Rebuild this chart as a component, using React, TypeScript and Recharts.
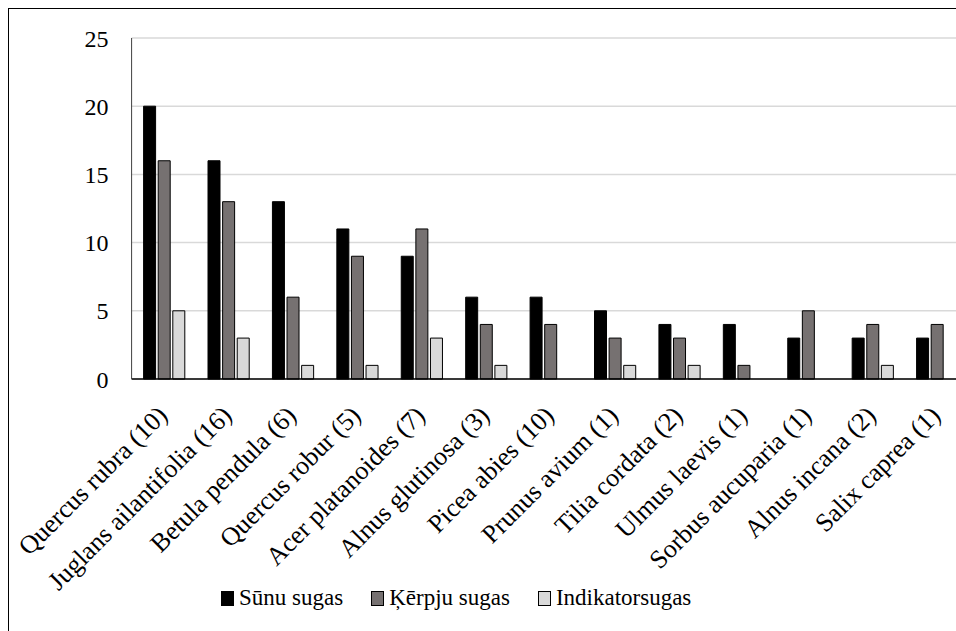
import { BarChart, Bar, XAxis, YAxis, CartesianGrid, Legend } from 'recharts'

const species = [
  'Quercus rubra (10)',
  'Juglans ailantifolia (16)',
  'Betula pendula (6)',
  'Quercus robur (5)',
  'Acer platanoides (7)',
  'Alnus glutinosa (3)',
  'Picea abies (10)',
  'Prunus avium (1)',
  'Tilia cordata (2)',
  'Ulmus laevis (1)',
  'Sorbus aucuparia (1)',
  'Alnus incana (2)',
  'Salix caprea (1)',
]
const sunu = [20, 16, 13, 11, 9, 6, 6, 5, 4, 4, 3, 3, 3]
const kerpju = [16, 13, 6, 9, 11, 4, 4, 3, 3, 1, 5, 4, 4]
const indikator = [5, 3, 1, 1, 3, 1, 0, 1, 1, 0, 0, 1, 0]
const yTicks = [0, 5, 10, 15, 20, 25]

const series = [
  { key: 'sunu', name: 'Sūnu sugas', fill: '#000000' },
  { key: 'kerpju', name: 'Ķērpju sugas', fill: '#767171' },
  { key: 'indikator', name: 'Indikatorsugas', fill: '#d9d9d9' },
]

const data = species.map((name, i) => ({
  name,
  sunu: sunu[i],
  kerpju: kerpju[i],
  indikator: indikator[i],
}))

// serif like Times New Roman
const font = 'Liberation Serif, Tinos, DejaVu Serif, serif'

const XTick = ({ x, y, payload }: any) => {
  const ax = x + 5
  const ay = y + 36
  return (
    <text
      x={ax}
      y={ay}
      transform={`rotate(-45, ${ax}, ${ay})`}
      textAnchor="end"
      style={{ fontFamily: font }}
      fontSize={26}
      fill="#000"
    >
      {payload.value}
    </text>
  )
}

const LegendBox = () => (
  <div style={{ display: 'flex', alignItems: 'center', height: 30, fontFamily: font, fontSize: 23 }}>
    {series.map((s, i) => (
      <div key={s.key} style={{ display: 'flex', alignItems: 'center', marginLeft: i === 0 ? 0 : 28 }}>
        <span
          style={{
            display: 'inline-block',
            width: 11,
            height: 13,
            background: s.fill,
            border: '1px solid #000',
            marginRight: 5,
          }}
        />
        <span>{s.name}</span>
      </div>
    ))}
  </div>
)

const App = () => {
  return (
    <div style={{ position: 'fixed', top: 8, left: 8, width: 948, height: 623, overflow: 'hidden', fontFamily: font }}>
      <div style={{ border: '1px solid #000', width: 990, height: 640, background: '#fff' }}>
        <BarChart
          width={990}
          height={640}
          data={data}
          margin={{ top: 29, right: 30, left: 0, bottom: 0 }}
          barSize={12}
          barGap={2.6}
          style={{ fontFamily: font }}
        >
          <CartesianGrid vertical={false} stroke="#d9d9d9" strokeWidth={1.5} />
          <XAxis
            dataKey="name"
            interval={0}
            height={240}
            tickLine={false}
            tickSize={0}
            tick={<XTick />}
            axisLine={{ stroke: '#000', strokeWidth: 1.5 }}
          />
          <YAxis
            width={122.6}
            domain={[0, 25]}
            ticks={yTicks}
            tickLine={false}
            tickSize={0}
            tickMargin={23}
            axisLine={{ stroke: '#404040', strokeWidth: 1 }}
            tick={{ style: { fontFamily: font }, fontSize: 24, fill: '#000' }}
          />
          <Legend
            content={<LegendBox />}
            wrapperStyle={{ top: 574, left: 212, bottom: 'auto', width: 'auto' }}
          />
          {series.map((s) => (
            <Bar
              key={s.key}
              dataKey={s.key}
              name={s.name}
              fill={s.fill}
              stroke="#000"
              strokeWidth={1}
              isAnimationActive={false}
            />
          ))}
        </BarChart>
      </div>
    </div>
  )
}

export default App
